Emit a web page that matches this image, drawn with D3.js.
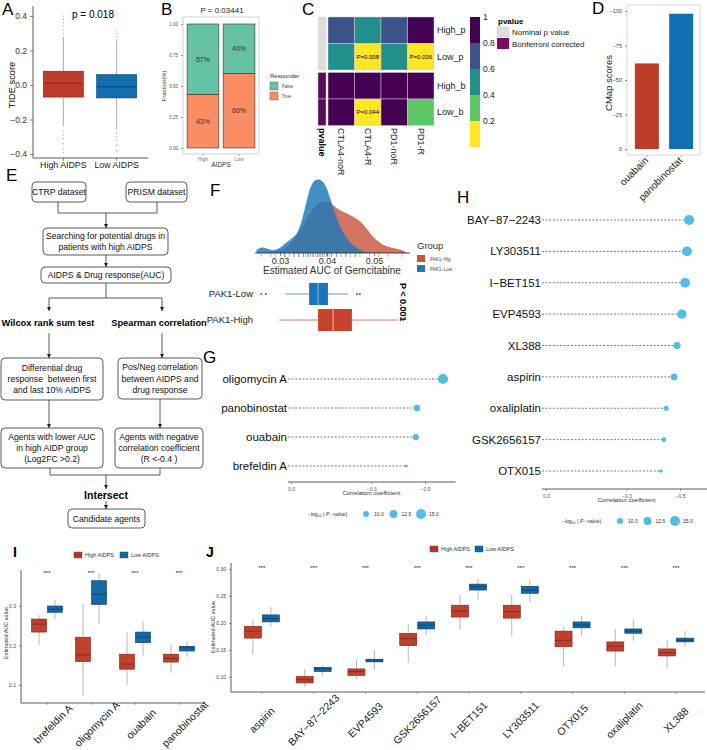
<!DOCTYPE html>
<html><head><meta charset="utf-8">
<script src="https://cdn.jsdelivr.net/npm/d3@7"></script>
<style>body{margin:0;background:#fff} svg{display:block} text{font-family:"Liberation Sans",Arial,sans-serif}</style>
</head><body><svg id="c" width="707" height="750"></svg>
<script>
// ================= DATA =================
// A: TIDE score boxplots  [whiskerLow, Q1, median, Q3, whiskerHigh]
const groupsA = ["High AIDPS", "Low AIDPS"];
const tideStats = [[-0.24, -0.07, 0.01, 0.08, 0.28], [-0.26, -0.075, -0.01, 0.06, 0.26]];
const tideOutHigh = [0.30, 0.32, 0.34, 0.36, 0.38, 0.40, -0.27, -0.29, -0.31, -0.34, -0.37, -0.39];
const tideOutLow = [0.28, 0.30, 0.32, -0.28, -0.30, -0.32, -0.35, -0.38];
const tideTicks = [-0.4, -0.2, 0, 0.2, 0.4];
// B: responder fractions
const respGroups = ["High", "Low"];
const respFalse = [0.57, 0.40];
const respTrue = [0.43, 0.60];
const fracTicks = [0, 0.25, 0.5, 0.75, 1];
// C: submap p-values
const heatCols = ["CTLA4-noR", "CTLA4-R", "PD1-noR", "PD1-R"];
const heatRows = ["High_p", "Low_p", "High_b", "Low_b"];
const heatType = ["Nominal p value", "Nominal p value", "Bonferroni corrected", "Bonferroni corrected"];
const heatVals = [[0.70, 0.50, 0.70, 0.90], [0.50, 0.008, 0.50, 0.036], [1.0, 1.0, 1.0, 1.0], [1.0, 0.044, 1.0, 0.29]];
const cbTicks = [0.2, 0.4, 0.6, 0.8, 1];
// D: CMap scores
const cmapDrugs = ["ouabain", "panobinostat"];
const cmapScores = [-62, -98];
const cmapTicks = [0, -25, -50, -75, -100];
// F: gemcitabine AUC densities
const densX = [0.025,0.026,0.027,0.028,0.029,0.030,0.031,0.032,0.033,0.034,0.035,0.036,0.037,0.038,0.039,0.040,0.041,0.042,0.043,0.044,0.045,0.046,0.047,0.048,0.049,0.050,0.051,0.052,0.053,0.054,0.055,0.056,0.057];
const densLow = [3,6,5,3,3,5,9,13,16,22,38,60,72,74,73,65,50,35,24,16,10,6,3,1,0,0,0,0,0,0,0,0,0];
const densHigh = [0,0,0.5,1,1.5,2,4,8,13,20,28,36,44,49,52,52,49,45,42,40,38,35,32,27,21,15,11,8,6,5,4,3,0];
const rugHigh = [0.029,0.031,0.033,0.034,0.035,0.036,0.037,0.038,0.0385,0.039,0.040,0.0405,0.041,0.042,0.043,0.044,0.045,0.046,0.047,0.049,0.051,0.053,0.056];
const rugLow = [0.026,0.028,0.031,0.032,0.033,0.034,0.035,0.0355,0.036,0.0365,0.037,0.0375,0.038,0.0385,0.039,0.0395,0.040,0.041,0.042,0.044,0.046];
const gemTicks = [0.03, 0.04, 0.05];
const pakGroups = ["PAK1-Low", "PAK1-High"];
const pakStats = [[0.0311, 0.0362, 0.0381, 0.0402, 0.0445], [0.0298, 0.0381, 0.0413, 0.0453, 0.0551]];
const pakOut = [[0.0260, 0.0270, 0.0464, 0.0470], [0.0562]];
// G: correlation lollipop (CTRP)
const drugsG = ["oligomycin A", "panobinostat", "ouabain", "brefeldin A"];
const corrG = [-0.567, -0.470, -0.466, -0.430];
const logpG = [15.2, 10.5, 10.3, 6.5];
// H: correlation lollipop (PRISM)
const drugsH = ["BAY\u221287\u22122243", "LY303511", "I\u2212BET151", "EVP4593", "XL388", "aspirin", "oxaliplatin", "GSK2656157", "OTX015"];
const corrH = [-0.534, -0.526, -0.519, -0.507, -0.489, -0.478, -0.448, -0.440, -0.429];
const logpH = [15.0, 14.8, 14.6, 13.9, 11.5, 11.0, 9.0, 8.5, 7.0];
const corrTicks = [0, -0.3, -0.5];
const sizeLegend = [10, 12.5, 15];
// I: CTRP estimated AUC
const drugsI = ["brefeldin A", "oligomycin A", "ouabain", "panobinostat"];
const statsIHigh = [[0.201,0.234,0.254,0.267,0.277],[0.072,0.159,0.176,0.221,0.305],[0.100,0.140,0.153,0.178,0.234],[0.131,0.158,0.167,0.178,0.201]];
const statsILow = [[0.267,0.284,0.292,0.300,0.315],[0.257,0.304,0.330,0.364,0.383],[0.174,0.207,0.221,0.234,0.262],[0.171,0.186,0.194,0.198,0.212]];
const ticksI = [0.1, 0.2, 0.3];
// J: PRISM estimated AUC
const drugsJ = ["aspirin", "BAY\u221287\u22122243", "EVP4593", "GSK2656157", "I\u2212BET151", "LY303511", "OTX015", "oxaliplatin", "XL388"];
const statsJHigh = [[0.142,0.172,0.185,0.194,0.205],[0.082,0.089,0.095,0.101,0.115],[0.096,0.103,0.110,0.115,0.132],[0.126,0.158,0.171,0.181,0.198],[0.187,0.211,0.222,0.233,0.252],[0.175,0.209,0.221,0.233,0.252],[0.120,0.156,0.168,0.185,0.193],[0.120,0.148,0.157,0.165,0.189],[0.117,0.139,0.145,0.152,0.168]];
const statsJLow = [[0.193,0.202,0.208,0.215,0.230],[0.101,0.110,0.115,0.118,0.122],[0.113,0.128,0.130,0.133,0.150],[0.178,0.189,0.196,0.202,0.213],[0.243,0.261,0.267,0.272,0.283],[0.239,0.255,0.261,0.268,0.280],[0.176,0.191,0.196,0.202,0.213],[0.167,0.181,0.185,0.189,0.207],[0.156,0.165,0.168,0.172,0.185]];
const ticksJ = [0.10, 0.15, 0.20, 0.25, 0.30];
const legendGroups = ["High AIDPS", "Low AIDPS"];

// ================= DRAWING =================
const SANS = '"Liberation Sans", Arial, sans-serif';
const SERIF = '"Liberation Serif", "Times New Roman", serif';
const RED = "#BC3C29", RED_D = "#7E2418", BLUE = "#0F6FB2", BLUE_D = "#0A3F68";
const svg = d3.select("#c");
svg.append("rect").attr("width", 707).attr("height", 750).attr("fill", "#fff");

function T(g, x, y, s, o = {}) {
  const t = g.append("text").attr("x", x).attr("y", y).text(s)
    .attr("font-size", o.size || 10).attr("fill", o.fill || "#000")
    .attr("text-anchor", o.anchor || "start");
  if (o.weight) t.attr("font-weight", o.weight);
  if (o.family) t.attr("font-family", o.family);
  if (o.dy) t.attr("dy", o.dy);
  if (o.rotate !== undefined) t.attr("transform", `rotate(${o.rotate},${x},${y})`);
  return t;
}
function styleAxis(sel, size, color) {
  sel.select(".domain").remove();
  sel.selectAll("text").attr("font-size", size).attr("fill", color).attr("font-family", SANS);
  sel.selectAll("line").attr("stroke", color).attr("stroke-width", 0.6);
}
function L(g, x1, y1, x2, y2, c = "#333", w = 0.8) {
  return g.append("line").attr("x1", x1).attr("y1", y1).attr("x2", x2).attr("y2", y2).attr("stroke", c).attr("stroke-width", w);
}
function vbox(g, cx, w, s, y, fill, stroke, whisk) {
  L(g, cx, y(s[0]), cx, y(s[1]), whisk, 0.7);
  L(g, cx, y(s[3]), cx, y(s[4]), whisk, 0.7);
  g.append("rect").attr("x", cx - w / 2).attr("y", y(s[3])).attr("width", w).attr("height", y(s[1]) - y(s[3]))
    .attr("fill", fill).attr("stroke", stroke).attr("stroke-width", 0.6);
  L(g, cx - w / 2, y(s[2]), cx + w / 2, y(s[2]), stroke, 0.8);
}

// panel letters
[["A",2,15],["B",161,15],["C",302,15],["D",592,14],["E",6,181],["F",210,196],["G",203,363],["H",457,203]].forEach(d =>
  T(svg, d[1], d[2], d[0], { size: 17 }));
T(svg, 13, 557, "I", { size: 14, weight: "bold" });
T(svg, 206, 557, "J", { size: 14, weight: "bold" });

// ---------- A ----------
{
  const g = svg.append("g");
  const y = d3.scaleLinear().domain([-0.4, 0.4]).range([154, 16]);
  const x = d3.scaleBand().domain(groupsA).range([38, 142]).paddingInner(0.25).paddingOuter(0.1);
  const ax = g.append("g").attr("transform", "translate(33,0)")
    .call(d3.axisLeft(y).tickValues(tideTicks).tickSize(3).tickFormat(d3.format(".1f")));
  styleAxis(ax, 8.5, "#333");
  L(g, 33, 6, 33, 158, "#333", 0.8);
  L(g, 33, 158, 148, 158, "#333", 0.8);
  groupsA.forEach((k, i) => {
    const cx = x(k) + x.bandwidth() / 2;
    L(g, cx, 158, cx, 161, "#333", 0.6);
    T(g, cx, 168, k, { size: 8.8, anchor: "middle", fill: "#222" });
    vbox(g, cx, x.bandwidth(), tideStats[i], y, i ? BLUE : RED, i ? BLUE_D : RED_D, "#888");
    (i ? tideOutLow : tideOutHigh).forEach(v => g.append("circle").attr("cx", cx).attr("cy", y(v)).attr("r", 0.6).attr("fill", "#999"));
  });
  T(g, 93, 18, "p = 0.018", { size: 10, anchor: "middle" });
  T(g, 12, 85, "TIDE score", { size: 9.3, anchor: "middle", rotate: -90, dy: "0.35em" });
}

// ---------- B ----------
{
  const g = svg.append("g");
  const y = d3.scaleLinear().domain([0, 1]).range([148, 24]);
  const x = d3.scaleBand().domain(respGroups).range([186, 256]).paddingInner(0.12).paddingOuter(0.03);
  g.append("rect").attr("x", 183).attr("y", 17).attr("width", 76).attr("height", 137).attr("fill", "none").attr("stroke", "#c8c8c8").attr("stroke-width", 0.8);
  const ax = g.append("g").attr("transform", "translate(183,0)")
    .call(d3.axisLeft(y).tickValues(fracTicks).tickSize(2).tickFormat(d3.format(".2f")));
  styleAxis(ax, 4.5, "#555");
  respGroups.forEach((k, i) => {
    const x0 = x(k), w = x.bandwidth();
    g.append("rect").attr("x", x0).attr("y", y(1)).attr("width", w).attr("height", y(respTrue[i]) - y(1))
      .attr("fill", "#66C2A5").attr("stroke", "#333").attr("stroke-width", 0.6);
    g.append("rect").attr("x", x0).attr("y", y(respTrue[i])).attr("width", w).attr("height", y(0) - y(respTrue[i]))
      .attr("fill", "#FC8D62").attr("stroke", "#333").attr("stroke-width", 0.6);
    T(g, x0 + w / 2, (y(1) + y(respTrue[i])) / 2, Math.round(respFalse[i] * 100) + "%", { size: 7, anchor: "middle", dy: "0.35em", fill: "#333" });
    T(g, x0 + w / 2, (y(0) + y(respTrue[i])) / 2, Math.round(respTrue[i] * 100) + "%", { size: 7, anchor: "middle", dy: "0.35em", fill: "#333" });
    L(g, x0 + w / 2, 154, x0 + w / 2, 156, "#666", 0.5);
    T(g, x0 + w / 2, 161, k, { size: 5, anchor: "middle", fill: "#777" });
  });
  T(g, 221, 167, "AIDPS", { size: 6.5, anchor: "middle", fill: "#333" });
  T(g, 164, 86, "Fraction(%)", { size: 6, anchor: "middle", rotate: -90, dy: "0.35em", fill: "#333" });
  T(g, 222, 13, "P = 0.03441", { size: 8, anchor: "middle", fill: "#222" });
  T(g, 270, 78, "Responder", { size: 6, fill: "#333" });
  g.append("rect").attr("x", 270).attr("y", 82).attr("width", 8).attr("height", 8).attr("fill", "#66C2A5").attr("stroke", "#555").attr("stroke-width", 0.4);
  g.append("rect").attr("x", 270).attr("y", 92).attr("width", 8).attr("height", 8).attr("fill", "#FC8D62").attr("stroke", "#555").attr("stroke-width", 0.4);
  T(g, 282, 88, "False", { size: 4.5, fill: "#444" });
  T(g, 282, 98, "True", { size: 4.5, fill: "#444" });
}

// ---------- C ----------
{
  const g = svg.append("g");
  const col = d3.scaleThreshold().domain([0.2, 0.4, 0.6, 0.8]).range(["#FDE725", "#5DC863", "#21908C", "#3B528B", "#440154"]);
  const x = d3.scaleBand().domain(heatCols).range([328, 434]);
  const yb = d3.scaleBand().domain(heatRows).range([17, 123]);
  const y = r => yb(r) + (heatRows.indexOf(r) >= 2 ? 2.5 : 0);
  const typeCol = { "Nominal p value": "#DCDCDC", "Bonferroni corrected": "#5C0A5C" };
  heatRows.forEach((r, i) => {
    g.append("rect").attr("x", 318).attr("y", y(r)).attr("width", 8).attr("height", yb.bandwidth())
      .attr("fill", typeCol[heatType[i]]).attr("stroke", "#e4d6e4").attr("stroke-width", 0.4);
    heatCols.forEach((c, j) => {
      const v = heatVals[i][j];
      g.append("rect").attr("x", x(c)).attr("y", y(r)).attr("width", x.bandwidth()).attr("height", yb.bandwidth())
        .attr("fill", col(v)).attr("stroke", "#d9c6dc").attr("stroke-width", 0.5);
      if (v < 0.05) T(g, x(c) + x.bandwidth() / 2, y(r) + yb.bandwidth() / 2, "P=" + v.toFixed(3), { size: 6, anchor: "middle", dy: "0.35em" });
    });
    T(g, 437, y(r) + yb.bandwidth() / 2, r, { size: 9, dy: "0.35em", fill: "#222" });
  });
  T(g, 322, 128, "pvalue", { size: 9, weight: "bold", rotate: 90, dy: "0.35em" });
  heatCols.forEach(c => T(g, x(c) + x.bandwidth() / 2, 128, c, { size: 9, rotate: 90, dy: "0.35em", fill: "#222" }));
  // color bar
  const cb = d3.scaleLinear().domain([0, 1]).range([147, 17]);
  [[0, 0.2], [0.2, 0.4], [0.4, 0.6], [0.6, 0.8], [0.8, 1]].forEach(b =>
    g.append("rect").attr("x", 470).attr("y", cb(b[1])).attr("width", 10).attr("height", cb(b[0]) - cb(b[1])).attr("fill", col((b[0] + b[1]) / 2)));
  cbTicks.forEach(t => T(g, 483, cb(t), t === 1 ? "1" : t.toFixed(1), { size: 8.5, dy: "0.35em", fill: "#222" }));
  T(g, 498, 24, "pvalue", { size: 8, weight: "bold" });
  g.append("rect").attr("x", 497).attr("y", 27).attr("width", 12).attr("height", 10).attr("fill", "#DCDCDC").attr("stroke", "#bbb").attr("stroke-width", 0.3);
  g.append("rect").attr("x", 497).attr("y", 38).attr("width", 12).attr("height", 11).attr("fill", "#7A0A62");
  T(g, 512, 35, "Nominal p value", { size: 8, fill: "#222" });
  T(g, 512, 47, "Bonferroni corrected", { size: 8, fill: "#222" });
}

// ---------- D ----------
{
  const g = svg.append("g");
  const y = d3.scaleLinear().domain([0, -100]).range([149, 11]);
  const x = d3.scaleBand().domain(cmapDrugs).range([628, 700]).paddingInner(0.3).paddingOuter(0.2);
  g.append("rect").attr("x", 627).attr("y", 5).attr("width", 73).attr("height", 150).attr("fill", "none").attr("stroke", "#d0d0d0").attr("stroke-width", 0.8);
  const ax = g.append("g").attr("transform", "translate(627,0)")
    .call(d3.axisLeft(y).tickValues(cmapTicks).tickSize(2).tickFormat(d3.format("d")));
  styleAxis(ax, 5.5, "#444");
  const cols = [RED, BLUE];
  cmapDrugs.forEach((k, i) => {
    g.append("rect").attr("x", x(k)).attr("y", y(cmapScores[i])).attr("width", x.bandwidth()).attr("height", y(0) - y(cmapScores[i])).attr("fill", cols[i]);
    const cx = x(k) + x.bandwidth() / 2;
    L(g, cx, 155, cx, 157, "#666", 0.5);
    T(g, cx + 2, 161, k, { size: 10, anchor: "end", rotate: -45, fill: "#222" });
  });
  T(g, 609, 83, "CMap scores", { size: 9.5, anchor: "middle", rotate: -90, dy: "0.35em", fill: "#222" });
}

// ---------- E flowchart ----------
{
  const g = svg.append("g");
  const defs = svg.append("defs");
  defs.append("marker").attr("id", "arr").attr("viewBox", "0 0 10 10").attr("refX", 10).attr("refY", 5)
    .attr("markerWidth", 5).attr("markerHeight", 5).attr("orient", "auto")
    .append("path").attr("d", "M0,0 L10,5 L0,10 z").attr("fill", "#222");
  const boxes = [
    { x: 32, y: 182, w: 54, h: 20, lines: ["CTRP dataset"] },
    { x: 126, y: 182, w: 61, h: 20, lines: ["PRISM dataset"] },
    { x: 43, y: 228, w: 125, h: 27, lines: ["Searching for potential drugs in", "patients with high AIDPS"] },
    { x: 41, y: 267, w: 130, h: 16, lines: ["AIDPS & Drug response(AUC)"] },
    { x: 1, y: 358, w: 102, h: 42, lines: ["Differential drug", "response  between first", "and last 10% AIDPS"] },
    { x: 118, y: 358, w: 84, h: 41, lines: ["Pos/Neg correlation", "between AIDPS and", "drug response"] },
    { x: 1, y: 428, w: 102, h: 40, lines: ["Agents with lower AUC", "in high AIDP group", "(Log2FC >0.2)"] },
    { x: 115, y: 428, w: 88, h: 40, lines: ["Agents with negative", "correlation coefficient", "(R <-0.4 )"] },
    { x: 68, y: 509, w: 77, h: 19, lines: ["Candidate agents"] }
  ];
  boxes.forEach(b => {
    g.append("rect").attr("x", b.x).attr("y", b.y).attr("width", b.w).attr("height", b.h).attr("rx", 4)
      .attr("fill", "#fff").attr("stroke", "#333").attr("stroke-width", 0.8);
    const n = b.lines.length, lh = 11.3;
    b.lines.forEach((s, i) => T(g, b.x + b.w / 2, b.y + b.h / 2 + (i - (n - 1) / 2) * lh, s,
      { size: 8.6, anchor: "middle", dy: "0.35em", family: SERIF, fill: "#111" }).attr("xml:space", "preserve").style("white-space", "pre"));
  });
  const segs = [[58, 202, 58, 213], [157, 202, 157, 213], [58, 213, 157, 213], [106, 283, 106, 298], [49, 298, 162, 298],
    [50, 468, 50, 475], [160, 468, 160, 475], [50, 475, 160, 475]];
  segs.forEach(s => L(g, s[0], s[1], s[2], s[3], "#333", 0.8));
  const arrows = [[106, 213, 106, 228], [106, 255, 106, 267], [49, 298, 49, 311], [162, 298, 162, 311],
    [49, 333, 49, 358], [162, 333, 162, 358], [49, 400, 49, 428], [160, 399, 160, 428], [106, 475, 106, 489], [106, 501, 106, 509]];
  arrows.forEach(s => L(g, s[0], s[1], s[2], s[3], "#333", 0.8).attr("marker-end", "url(#arr)"));
  T(g, 48, 326, "Wilcox rank sum test", { size: 9.3, anchor: "middle", weight: "bold", family: SERIF });
  T(g, 159, 326, "Spearman correlation", { size: 9.3, anchor: "middle", weight: "bold", family: SERIF });
  T(g, 106, 499, "Intersect", { size: 10.5, anchor: "middle", weight: "bold", family: SERIF });
}

// ---------- F ----------
{
  const g = svg.append("g");
  const x = d3.scaleLinear().domain([0.03, 0.05]).range([280, 374]);
  const yd = d3.scaleLinear().domain([0, 74]).range([253, 179]);
  const area = d => d3.area().x((v, i) => x(densX[i])).y0(yd(0)).y1(v => yd(v)).curve(d3.curveBasis)(d);
  g.append("path").attr("d", area(densHigh)).attr("fill", "#C8553D").attr("fill-opacity", 0.82);
  g.append("path").attr("d", area(densLow)).attr("fill", "#1F78B8").attr("fill-opacity", 0.84);
  rugHigh.forEach(v => L(g, x(v), 253, x(v), 257, "#B0604F", 0.5));
  rugLow.forEach(v => L(g, x(v), 253, x(v), 257, "#3F6F95", 0.5));
  L(g, 255, 253, 410, 253, "#222", 0.8);
  const ax = g.append("g").attr("transform", "translate(0,253)")
    .call(d3.axisBottom(x).tickValues(gemTicks).tickSize(3).tickFormat(d3.format(".2f")));
  styleAxis(ax, 9, "#333");
  ax.selectAll("text").attr("dy", "0.55em");
  T(g, 332, 274, "Estimated AUC of Gemcitabine", { size: 10, anchor: "middle", fill: "#333" });
  // legend
  T(g, 417, 249, "Group", { size: 9.5, fill: "#333" });
  g.append("rect").attr("x", 417).attr("y", 255).attr("width", 8).attr("height", 7).attr("fill", "#C8553D");
  g.append("rect").attr("x", 417).attr("y", 265).attr("width", 8).attr("height", 7).attr("fill", "#1F78B8");
  T(g, 430, 261, "PAK1\u2212Hig", { size: 4.5, fill: "#444" });
  T(g, 430, 271, "PAK1\u2212Low", { size: 4.5, fill: "#444" });
  // boxplots
  const yb = d3.scaleBand().domain(pakGroups).range([279, 335]).padding(0.15);
  const fills = ["#1A74B8", "#C8432E"], lines = ["#1A74B8", "#C8432E"], meds = ["#7FC0EA", "#F2B3A6"];
  pakGroups.forEach((k, i) => {
    const s = pakStats[i], y0 = yb(k), h = yb.bandwidth(), cy = y0 + h / 2;
    L(g, x(s[0]), cy, x(s[1]), cy, lines[i], 0.7);
    L(g, x(s[3]), cy, x(s[4]), cy, lines[i], 0.7);
    g.append("rect").attr("x", x(s[1])).attr("y", y0).attr("width", x(s[3]) - x(s[1])).attr("height", h).attr("fill", fills[i]);
    L(g, x(s[2]), y0, x(s[2]), y0 + h, meds[i], 1);
    pakOut[i].forEach(v => g.append("circle").attr("cx", x(v)).attr("cy", cy).attr("r", 1).attr("fill", lines[i]));
    T(g, 253, cy, k, { size: 9.5, anchor: "end", dy: "0.35em", fill: "#222" });
  });
  T(g, 403, 283, "P < 0.001", { size: 9, weight: "bold", rotate: 90, dy: "0.35em" });
}

// ---------- lollipops G & H ----------
function lollipop(drugs, corr, logp, yr, xr, axisY, labelX, legY, legX) {
  const g = svg.append("g");
  const y = d3.scalePoint().domain(drugs).range(yr);
  const x = d3.scaleLinear().domain([0, -0.5]).range(xr);
  const r = d3.scaleLinear().domain([10, 15]).range([3, 5]);
  drugs.forEach((d, i) => {
    g.append("line").attr("x1", labelX + 1).attr("x2", x(corr[i])).attr("y1", y(d)).attr("y2", y(d))
      .attr("stroke", "#444").attr("stroke-width", 0.7).attr("stroke-dasharray", "2,1.6");
    g.append("circle").attr("cx", x(corr[i])).attr("cy", y(d)).attr("r", r(logp[i])).attr("fill", "#4DBDE9");
    T(g, labelX, y(d), d, { size: 11.5, anchor: "end", dy: "0.35em", fill: "#111" });
  });
  L(g, labelX + 1, axisY, labelX + 1 + (xr[1] - xr[0]) * 1.25, axisY, "#333", 0.8);
  const ax = g.append("g").attr("transform", `translate(0,${axisY})`)
    .call(d3.axisBottom(x).tickValues(corrTicks).tickSize(2).tickFormat(d3.format(".1f")));
  styleAxis(ax, 5, "#555");
  T(g, x(-0.3), axisY + 13, "Correlation coefficient", { size: 6, anchor: "middle", fill: "#333" });
  const lg = T(g, legX, legY, "", { size: 5, fill: "#333", dy: "0.35em" });
  lg.append("tspan").text("\u2212log");
  lg.append("tspan").text("10").attr("font-size", 3.5).attr("dy", "1.5");
  lg.append("tspan").text(" ( ").attr("dy", "-1.5");
  lg.append("tspan").text("P").attr("font-style", "italic");
  lg.append("tspan").text(" \u2212value)");
  sizeLegend.forEach((v, i) => {
    const cx = legX + 58 + i * 27.5;
    g.append("circle").attr("cx", cx).attr("cy", legY).attr("r", r(v)).attr("fill", "#4DBDE9");
    T(g, cx + 8, legY, v.toFixed(1), { size: 5, dy: "0.35em", fill: "#333" });
  });
}
lollipop(drugsG, corrG, logpG, [379, 466], [291, 425], 482, 287, 514, 308);
lollipop(drugsH, corrH, logpH, [220, 471], [546, 680], 489, 541, 521, 562);

// ---------- I & J ----------
function legendBoxes(x0, y0, gap) {
  const g = svg.append("g");
  [[RED, RED_D], [BLUE, BLUE_D]].forEach((c, i) => {
    const x = x0 + i * gap;
    g.append("rect").attr("x", x).attr("y", y0 - 3).attr("width", 8).attr("height", 6).attr("fill", c[0]).attr("stroke", c[1]).attr("stroke-width", 0.4);
    L(g, x, y0, x + 8, y0, c[1], 0.5);
    T(g, x + 11, y0, legendGroups[i], { size: 5.5, dy: "0.35em", fill: "#333" });
  });
}
function groupBoxes(drugs, hi, lo, xr, yScale, axisX, axisY, topY, w, off, starY, labSize, labDx, labY, tickFmt, tickVals) {
  const g = svg.append("g");
  const x = d3.scaleBand().domain(drugs).range(xr);
  const ax = g.append("g").attr("transform", `translate(${axisX},0)`)
    .call(d3.axisLeft(yScale).tickValues(tickVals).tickSize(2).tickFormat(d3.format(tickFmt)));
  styleAxis(ax, 5, "#444");
  L(g, axisX, topY, axisX, axisY, "#333", 0.8);
  L(g, axisX, axisY, xr[1] + 3, axisY, "#333", 0.8);
  drugs.forEach((d, i) => {
    const cx = x(d) + x.bandwidth() / 2;
    vbox(g, cx - off, w, hi[i], yScale, "#C0402C", RED_D, "#999");
    vbox(g, cx + off, w, lo[i], yScale, "#1768A8", BLUE_D, "#999");
    T(g, cx, starY, "***", { size: 6, anchor: "middle", fill: "#222" });
    L(g, cx, axisY, cx, axisY + 2, "#444", 0.5);
    T(g, cx + labDx, labY, d, { size: labSize, anchor: "middle", dy: "0.35em", rotate: -45, fill: "#222" });
  });
  return g;
}
{
  const y = d3.scaleLinear().domain([0.1, 0.3]).range([685, 606]);
  groupBoxes(drugsI, statsIHigh, statsILow, [25, 201], y, 21, 703, 570, 15, 8, 575, 10.5, 6, 724, ".1f", ticksI);
  legendBoxes(74, 555, 46);
  T(svg, 6, 633, "Estimated AUC value", { size: 5.5, anchor: "middle", rotate: -90, dy: "0.35em", fill: "#333" });
}
{
  const y = d3.scaleLinear().domain([0.1, 0.3]).range([677, 569]);
  groupBoxes(drugsJ, statsJHigh, statsJLow, [236, 702], y, 231, 692, 563, 17, 9, 570, 10.5, 0, 720, ".2f", ticksJ);
  legendBoxes(430, 549, 45);
  T(svg, 213, 627, "Estimated AUC value", { size: 5.5, anchor: "middle", rotate: -90, dy: "0.35em", fill: "#333" });
}
</script></body></html>
